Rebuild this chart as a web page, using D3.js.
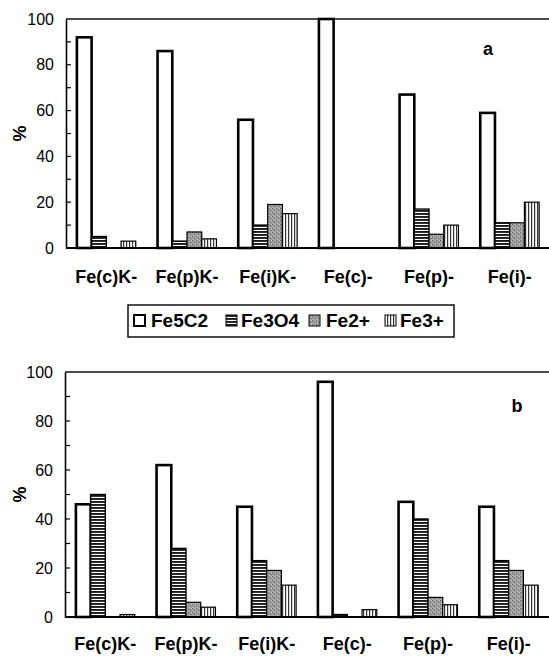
<!DOCTYPE html>
<html>
<head>
<meta charset="utf-8">
<script src="https://cdn.jsdelivr.net/npm/d3@7"></script>
<style>
  html, body { margin: 0; padding: 0; background: #fff; }
  svg { display: block; font-family: "Liberation Sans", Arial, sans-serif; }
</style>
</head>
<body>
<svg id="chart" width="549" height="656"></svg>
<script>
const categories = ["Fe(c)K-", "Fe(p)K-", "Fe(i)K-", "Fe(c)-", "Fe(p)-", "Fe(i)-"];
const seriesNames = ["Fe5C2", "Fe3O4", "Fe2+", "Fe3+"];
const yTickValues = [0, 20, 40, 60, 80, 100];
const yMinorTicks = [10, 30, 50, 70, 90];

// Panel a
const aFe5C2 = [92, 86, 56, 100, 67, 59];
const aFe3O4 = [5, 3, 10, 0, 17, 11];
const aFe2 = [0, 7, 19, 0, 6, 11];
const aFe3 = [3, 4, 15, 0, 10, 20];

// Panel b
const bFe5C2 = [46, 62, 45, 96, 47, 45];
const bFe3O4 = [50, 28, 23, 1, 40, 23];
const bFe2 = [0, 6, 19, 0, 8, 19];
const bFe3 = [1, 4, 13, 3, 5, 13];

const svg = d3.select("#chart");
const defs = svg.append("defs");

// Patterns
const pH = defs.append("pattern").attr("id", "pat-h").attr("patternUnits", "userSpaceOnUse")
  .attr("width", 6).attr("height", 3);
pH.append("rect").attr("width", 6).attr("height", 3).attr("fill", "#fff");
pH.append("rect").attr("y", 0).attr("width", 6).attr("height", 1.9).attr("fill", "#1a1a1a");

const pG = defs.append("pattern").attr("id", "pat-g").attr("patternUnits", "userSpaceOnUse")
  .attr("width", 4).attr("height", 4);
pG.append("rect").attr("width", 4).attr("height", 4).attr("fill", "#9c9c9c");
pG.append("rect").attr("x", 0).attr("y", 0).attr("width", 1).attr("height", 1).attr("fill", "#666");
pG.append("rect").attr("x", 2).attr("y", 2).attr("width", 1).attr("height", 1).attr("fill", "#727272");
pG.append("rect").attr("x", 3).attr("y", 0).attr("width", 1).attr("height", 1).attr("fill", "#c4c4c4");
pG.append("rect").attr("x", 1).attr("y", 3).attr("width", 1).attr("height", 1).attr("fill", "#c8c8c8");

const pV = defs.append("pattern").attr("id", "pat-v").attr("patternUnits", "userSpaceOnUse")
  .attr("width", 3).attr("height", 6);
pV.append("rect").attr("width", 3).attr("height", 6).attr("fill", "#fff");
pV.append("rect").attr("x", 0).attr("width", 1.2).attr("height", 6).attr("fill", "#333");

const fills = ["#ffffff", "url(#pat-h)", "url(#pat-g)", "url(#pat-v)"];
const strokeW = [2.6, 1.4, 1.2, 1.2];

function drawPanel(cfg) {
  const { left, top, bottom, right, series, tag, tagX, tagY, labelY } = cfg;
  const g = svg.append("g");
  const y = d3.scaleLinear().domain([0, 100]).range([bottom, top]);
  const x0 = d3.scaleBand().domain(categories).range([left, left + 6 * 80.67])
    .paddingInner(0.27).paddingOuter(0.135);
  const x1 = d3.scaleBand().domain(seriesNames).range([0, x0.bandwidth()]).padding(0);

  // top frame line
  g.append("line").attr("x1", left).attr("x2", right).attr("y1", top).attr("y2", top)
    .attr("stroke", "#111").attr("stroke-width", 1.4);

  // bars
  categories.forEach((cat, ci) => {
    seriesNames.forEach((s, si) => {
      const v = series[si][ci];
      if (v <= 0) return;
      g.append("rect")
        .attr("x", x0(cat) + x1(s))
        .attr("y", y(v))
        .attr("width", x1.bandwidth())
        .attr("height", y(0) - y(v))
        .attr("fill", fills[si])
        .attr("stroke", "#000")
        .attr("stroke-width", strokeW[si]);
    });
  });

  // y axis
  const yAxis = d3.axisLeft(y).tickValues(yTickValues).tickSize(0).tickPadding(12)
    .tickFormat(d3.format("d"));
  const ya = g.append("g").attr("transform", `translate(${left},0)`).call(yAxis);
  ya.select(".domain").attr("stroke", "#000").attr("stroke-width", 1.6);
  ya.selectAll("text").attr("font-size", 16).attr("fill", "#000")
    .attr("font-family", "'Liberation Sans', Arial, sans-serif");
  // inside ticks every 10
  g.selectAll(".minor").data(yTickValues.concat(yMinorTicks).filter(d => d > 0 && d < 100))
    .enter().append("line")
    .attr("x1", left).attr("x2", left + 5)
    .attr("y1", d => y(d)).attr("y2", d => y(d))
    .attr("stroke", "#000").attr("stroke-width", 1.2);

  // x baseline
  g.append("line").attr("x1", left).attr("x2", right).attr("y1", bottom).attr("y2", bottom)
    .attr("stroke", "#000").attr("stroke-width", 1.8);

  // category labels
  g.selectAll(".cat").data(categories).enter().append("text")
    .attr("x", d => x0(d) + x0.bandwidth() / 2)
    .attr("y", labelY)
    .attr("text-anchor", "middle")
    .attr("font-size", 18).attr("font-weight", "bold")
    .text(d => d);

  // y label %
  g.append("text")
    .attr("transform", `translate(26,${(top + bottom) / 2}) rotate(-90)`)
    .attr("text-anchor", "middle")
    .attr("font-size", 18).attr("font-weight", "bold")
    .text("%");

  // panel tag
  g.append("text").attr("x", tagX).attr("y", tagY).attr("text-anchor", "middle")
    .attr("font-size", 18).attr("font-weight", "bold").text(tag);
}

drawPanel({
  left: 66, top: 19, bottom: 248, right: 549,
  series: [aFe5C2, aFe3O4, aFe2, aFe3],
  tag: "a", tagX: 488, tagY: 55, labelY: 283
});
drawPanel({
  left: 65, top: 372, bottom: 617, right: 549,
  series: [bFe5C2, bFe3O4, bFe2, bFe3],
  tag: "b", tagX: 517, tagY: 412, labelY: 650
});

// Legend
const legend = svg.append("g");
legend.append("rect").attr("x", 128).attr("y", 305).attr("width", 326).attr("height", 32)
  .attr("fill", "#fff").attr("stroke", "#000").attr("stroke-width", 1.4);
const legendSwatchX = [134, 226, 309, 385];
const legendTextX = [151, 241, 326, 400];
seriesNames.forEach((s, i) => {
  legend.append("rect").attr("x", legendSwatchX[i]).attr("y", 315).attr("width", 11).attr("height", 11)
    .attr("fill", fills[i]).attr("stroke", "#000").attr("stroke-width", i === 0 ? 2 : 1);
  legend.append("text").attr("x", legendTextX[i]).attr("y", 327)
    .attr("font-size", 19).attr("font-weight", "bold").text(s);
});
</script>
</body>
</html>
